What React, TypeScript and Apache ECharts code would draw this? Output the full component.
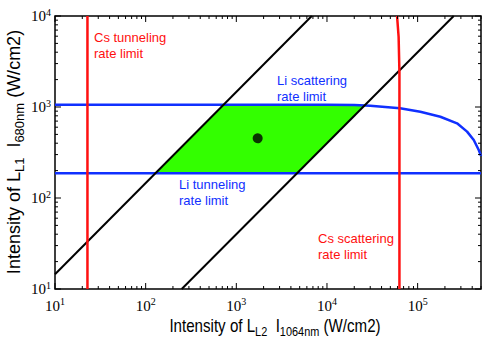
import React, { useEffect, useRef } from "react";
import * as echarts from "echarts";

// ---- axis ranges / tick labels ----
const X_MIN = 10;
const X_MAX = 5e5;
const Y_MIN = 10;
const Y_MAX = 1e4;
const xDecadeExponents = [1, 2, 3, 4, 5];
const yDecadeExponents = [1, 2, 3, 4];

// ---- data ----
const greenRegion = [
  [127, 187],
  [721, 1060],
  [26500, 1060],
  [4675, 187],
];
const blackLineLeft = [
  [10, 14.5],
  [6800, 10000],
];
const blackLineRight = [
  [250, 10],
  [250000, 10000],
];
const csTunneling = [
  [22.8, 10],
  [22.8, 10000],
];
const csScattering = [
  [63000, 10],
  [63000, 2400],
  [61700, 5900],
  [59300, 10000],
];
const liTunneling = [
  [10, 187],
  [500000, 187],
];
const liScattering = [
  [10, 1060],
  [10000, 1060],
  [20000, 1050],
  [30000, 1035],
  [64000, 970],
  [107000, 887],
  [178000, 782],
  [272000, 662],
  [351000, 536],
  [416000, 434],
  [472000, 337],
  [500000, 290],
];
const operatingPoint = [[1720, 453]];

const SERIF = "'Liberation Serif', 'Times New Roman', serif";
const SANS = "'Liberation Sans', Arial, sans-serif";
const RED = "#ff1010";
const BLUE = "#1030ff";

function buildTicks(minExp: number, maxVal: number) {
  const out: number[] = [];
  for (let e = minExp; e <= 6; e++) {
    for (let m = 1; m <= 9; m++) {
      const v = m * Math.pow(10, e);
      if (v <= maxVal * 1.0001) out.push(v);
    }
  }
  return out;
}
const xTickValues = buildTicks(1, X_MAX);
const yTickValues = buildTicks(1, Y_MAX);

function isPow10(v: number) {
  const l = Math.log10(v);
  return Math.abs(l - Math.round(l)) < 1e-6;
}

function labelFormatter(allowed: number[]) {
  return (v: number) => {
    if (!isPow10(v)) return "";
    const e = Math.round(Math.log10(v));
    if (allowed.indexOf(e) < 0) return "";
    return `{b|10}{s|${e}}`;
  };
}

const labelRich = {
  b: { fontFamily: SERIF, fontSize: 15, color: "#000", lineHeight: 15 },
  s: {
    fontFamily: SERIF,
    fontSize: 10,
    color: "#000",
    lineHeight: 10,
    padding: [0, 0, 8, 0],
  },
};

const titleRich = {
  m: { fontFamily: SANS, fontSize: 18, lineHeight: 18, fill: "#000" },
  s: {
    fontFamily: SANS,
    fontSize: 13,
    lineHeight: 13,
    padding: [11, 0, 0, 0],
    fill: "#000",
  },
};

export default function App() {
  const ref = useRef<HTMLDivElement>(null);
  useEffect(() => {
    if (!ref.current) return;
    const chart = echarts.init(ref.current, undefined, { renderer: "svg" });

    const tickSeries = (axis: "x" | "y") => ({
      type: "custom",
      silent: true,
      z: 10,
      data:
        axis === "x"
          ? xTickValues.map((v) => [v, Y_MIN])
          : yTickValues.map((v) => [X_MIN, v]),
      renderItem: (params: any, api: any) => {
        const v = axis === "x" ? api.value(0) : api.value(1);
        const len = isPow10(v) ? 6 : 3;
        const st = { stroke: "#000", lineWidth: 1 };
        if (axis === "x") {
          const b = api.coord([v, Y_MIN]);
          const t = api.coord([v, Y_MAX]);
          return {
            type: "group",
            children: [
              { type: "line", shape: { x1: b[0], y1: b[1], x2: b[0], y2: b[1] - len }, style: st },
              { type: "line", shape: { x1: t[0], y1: t[1], x2: t[0], y2: t[1] + len }, style: st },
            ],
          };
        }
        const l = api.coord([X_MIN, v]);
        const r = api.coord([X_MAX, v]);
        return {
          type: "group",
          children: [
            { type: "line", shape: { x1: l[0], y1: l[1], x2: l[0] + len, y2: l[1] }, style: st },
            { type: "line", shape: { x1: r[0], y1: r[1], x2: r[0] - len, y2: r[1] }, style: st },
          ],
        };
      },
    });

    const lineSeries = (data: number[][], color: string, width: number, z: number) => ({
      type: "line",
      data,
      symbol: "none",
      silent: true,
      z,
      lineStyle: { color, width },
      clip: true,
    });

    chart.setOption({
      animation: false,
      backgroundColor: "#fff",
      grid: {
        left: 55,
        right: 18,
        top: 16,
        bottom: 51,
        show: true,
        borderColor: "#000",
        borderWidth: 1.5,
        backgroundColor: "transparent",
      },
      xAxis: {
        type: "log",
        logBase: 10,
        min: X_MIN,
        max: X_MAX,
        axisLine: { show: false },
        axisTick: { show: false },
        minorTick: { show: false },
        splitLine: { show: false },
        axisLabel: {
          margin: 9,
          formatter: labelFormatter(xDecadeExponents),
          rich: labelRich,
          showMaxLabel: false,
        },
      },
      yAxis: {
        type: "log",
        logBase: 10,
        min: Y_MIN,
        max: Y_MAX,
        axisLine: { show: false },
        axisTick: { show: false },
        minorTick: { show: false },
        splitLine: { show: false },
        axisLabel: {
          margin: 4,
          formatter: labelFormatter(yDecadeExponents),
          rich: labelRich,
        },
      },
      series: [
        {
          type: "custom",
          silent: true,
          z: 1,
          data: greenRegion,
          renderItem: (params: any, api: any) => {
            if (params.dataIndex !== 0) return null;
            const pts = greenRegion.map((p) => api.coord(p));
            return {
              type: "polygon",
              shape: { points: pts },
              style: { fill: "#33ff00", stroke: "none" },
            };
          },
        },
        lineSeries(liTunneling, BLUE, 2.5, 2),
        lineSeries(liScattering, BLUE, 2.5, 2),
        lineSeries(blackLineLeft, "#000", 2, 3),
        lineSeries(blackLineRight, "#000", 2, 3),
        lineSeries(csTunneling, RED, 2.5, 4),
        lineSeries(csScattering, RED, 2.5, 4),
        {
          type: "scatter",
          data: operatingPoint,
          symbol: "circle",
          symbolSize: 10,
          itemStyle: { color: "#000" },
          silent: true,
          z: 5,
        },
        tickSeries("x"),
        tickSeries("y"),
      ],
      graphic: [
        {
          type: "text",
          x: 94,
          y: 29,
          style: {
            text: "Cs tunneling\nrate limit",
            fill: RED,
            fontFamily: SANS,
            fontSize: 13,
            lineHeight: 16,
            align: "left",
            verticalAlign: "top",
          },
        },
        {
          type: "text",
          x: 277,
          y: 72,
          style: {
            text: "Li scattering\nrate limit",
            fill: BLUE,
            fontFamily: SANS,
            fontSize: 13,
            lineHeight: 16,
            align: "left",
            verticalAlign: "top",
          },
        },
        {
          type: "text",
          x: 179,
          y: 176,
          style: {
            text: "Li tunneling\nrate limit",
            fill: BLUE,
            fontFamily: SANS,
            fontSize: 13,
            lineHeight: 16,
            align: "left",
            verticalAlign: "top",
          },
        },
        {
          type: "text",
          x: 318,
          y: 230,
          style: {
            text: "Cs scattering\nrate limit",
            fill: RED,
            fontFamily: SANS,
            fontSize: 13,
            lineHeight: 16,
            align: "left",
            verticalAlign: "top",
          },
        },
        {
          type: "text",
          x: 275,
          y: 326,
          scaleX: 0.84,
          style: {
            text: "{m|Intensity of L}{s|L2}{m|  I}{s|1064nm}{m| (W/cm2)}",
            rich: titleRich,
            align: "center",
            verticalAlign: "middle",
          },
        },
        {
          type: "text",
          x: 14,
          y: 152,
          rotation: Math.PI / 2,
          style: {
            text: "{m|Intensity of L}{s|L1}{m|  I}{s|680nm}{m| (W/cm2)}",
            rich: titleRich,
            align: "center",
            verticalAlign: "middle",
          },
        },
      ],
    });
    return () => chart.dispose();
  }, []);
  return (
    <div
      ref={ref}
      style={{ position: "fixed", left: 0, top: 0, width: 499, height: 340 }}
    />
  );
}
